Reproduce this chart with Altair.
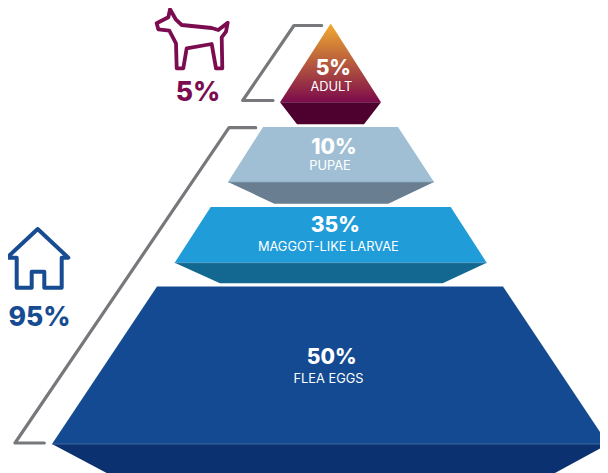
import altair as alt
import pandas as pd

FONT = "Inter"

# ---- pyramid outlines: (y, left, right)
adult_top_y = [23.5, 102.3]
adult_top_l = [330.7, 280]
adult_top_r = [330.7, 381]
adult_base_y = [102.3, 124.3]
adult_base_l = [280, 297]
adult_base_r = [381, 364]

pupae_top_y = [127, 182]
pupae_top_l = [263, 228]
pupae_top_r = [398, 434]
pupae_base_y = [182, 203.7]
pupae_base_l = [228, 274.3]
pupae_base_r = [434, 388.3]

larvae_top_y = [207, 262.7]
larvae_top_l = [210.7, 174.7]
larvae_top_r = [450.7, 486.7]
larvae_base_y = [262.7, 283.3]
larvae_base_l = [174.7, 220]
larvae_base_r = [486.7, 442.7]

eggs_top_y = [286.5, 444]
eggs_top_l = [157, 52]
eggs_top_r = [503, 608]
eggs_base_y = [444, 473]
eggs_base_l = [52, 106.7]
eggs_base_r = [608, 555]

faces = [
    ("adult_base", adult_base_y, adult_base_l, adult_base_r, "#4E002E"),
    ("pupae_top", pupae_top_y, pupae_top_l, pupae_top_r, "#A0BFD5"),
    ("pupae_base", pupae_base_y, pupae_base_l, pupae_base_r, "#697E90"),
    ("larvae_top", larvae_top_y, larvae_top_l, larvae_top_r, "#209CD9"),
    ("larvae_base", larvae_base_y, larvae_base_l, larvae_base_r, "#136892"),
    ("eggs_top", eggs_top_y, eggs_top_l, eggs_top_r, "#144A91"),
    ("eggs_base", eggs_base_y, eggs_base_l, eggs_base_r, "#0B3170"),
]

# ---- callout brackets and icons
bracket_adult_x = [321.7, 294, 242.7, 273]
bracket_adult_y = [25.5, 25.5, 100.5, 100.5]
bracket_home_x = [255.7, 229, 15, 44.3]
bracket_home_y = [127.7, 127.7, 443, 443]

dog_x = [156.7, 168.3, 170, 175.7, 181.7, 211.7, 218.3, 227.7, 226, 221.7, 222.3, 216, 211.7, 186.7, 183.3, 176.7, 176, 169.3, 158.3, 156.7]
dog_y = [23.3, 17.3, 9.3, 19.3, 25, 28, 30, 22.7, 31.7, 37.3, 68.3, 68.3, 44, 48.3, 68.3, 68.3, 43.3, 30.7, 29.3, 23.3]
house_x = [37.7, 68.3, 61.7, 61.7, 44.3, 44.3, 31.7, 31.7, 16.7, 16.7, 7, 37.7]
house_y = [229, 257.7, 257.7, 287.7, 287.7, 271.7, 271.7, 287.7, 287.7, 257.7, 257.7, 229]

# ---- labels
big_text = ["5%", "10%", "35%", "50%"]
big_x = [333.3, 334, 335.3, 331.7]
big_y = [69, 148, 225.5, 357.5]
small_text = ["ADULT", "PUPAE", "MAGGOT-LIKE LARVAE", "FLEA EGGS"]
small_x = [331.4, 330, 328.3, 328.5]
small_y = [87, 165.5, 246.5, 378.5]

side_text = ["5%", "95%"]
side_x = [198, 39.5]
side_y = [92.5, 318]
side_c = ["#7B0C50", "#174C93"]

# ---- scales: picture coordinates, plot area starts after the 8px page margin
x_scale = alt.Scale(domain=[8, 600], nice=False, zero=False)
y_scale = alt.Scale(domain=[473, 8], nice=False, zero=False)
X = lambda f: alt.X(f, type="quantitative", scale=x_scale, axis=None)
Y = lambda f: alt.Y(f, type="quantitative", scale=y_scale, axis=None)


def face_layer(name, ys, ls, rs, color):
    df = pd.DataFrame({"y": ys, "l": ls, "r": rs, "face": name})
    return alt.Chart(df).mark_area(orient="horizontal", clip=True, color=color).encode(
        y=Y("y:Q"), x=X("l:Q"), x2="r:Q"
    )


adult_top = alt.Chart(
    pd.DataFrame({"y": adult_top_y, "l": adult_top_l, "r": adult_top_r})
).mark_area(
    orient="horizontal",
    color=alt.Gradient(
        gradient="linear",
        x1=0, x2=0, y1=0, y2=1,
        stops=[
            alt.GradientStop(color="#F2AC2F", offset=0),
            alt.GradientStop(color="#7C0A4C", offset=1),
        ],
    ),
).encode(y=Y("y:Q"), x=X("l:Q"), x2="r:Q")


def outline(xs, ys, color, width, join="round"):
    df = pd.DataFrame({"x": xs, "y": ys, "i": range(len(xs))})
    return alt.Chart(df).mark_line(
        color=color, strokeWidth=width, strokeJoin=join, strokeCap="round", clip=False
    ).encode(x=X("x:Q"), y=Y("y:Q"), order="i:Q")


# thin lighter edges at the fold of each block
edge_y = [182, 262.7, 444]
edge_l = [228, 174.7, 52]
edge_r = [434, 486.7, 600]
edge_c = ["#8AA6BB", "#4C9EC8", "#4F74A5"]
edges = alt.Chart(pd.DataFrame({"y": edge_y, "l": edge_l, "r": edge_r, "c": edge_c})).mark_rule(
    strokeWidth=0.8
).encode(y=Y("y:Q"), x=X("l:Q"), x2="r:Q", color=alt.Color("c:N", scale=None))

big = alt.Chart(pd.DataFrame({"t": big_text, "x": big_x, "y": big_y})).mark_text(
    font=FONT, fontWeight=800, color="white", baseline="middle", align="center", fontSize=21
).encode(x=X("x:Q"), y=Y("y:Q"), text="t:N")
small = alt.Chart(pd.DataFrame({"t": small_text, "x": small_x, "y": small_y})).mark_text(
    font=FONT, fontWeight="normal", color="white", baseline="middle", align="center", fontSize=12.8
).encode(x=X("x:Q"), y=Y("y:Q"), text="t:N")

side = alt.Chart(pd.DataFrame({"t": side_text, "x": side_x, "y": side_y, "c": side_c})).mark_text(
    font=FONT, fontWeight=800, baseline="middle", align="center", fontSize=26.5
).encode(x=X("x:Q"), y=Y("y:Q"), text="t:N", color=alt.Color("c:N", scale=None))

layers = [adult_top] + [face_layer(*f) for f in faces] + [
    edges,
    outline(bracket_adult_x, bracket_adult_y, "#77787B", 3.2),
    outline(bracket_home_x, bracket_home_y, "#77787B", 3.2),
    outline(dog_x, dog_y, "#7B0C50", 3.8),
    outline(house_x, house_y, "#174C93", 4),
    big,
    small,
    side,
]

chart = alt.layer(*layers).properties(
    width=592, height=465, padding=0, autosize=alt.AutoSizeParams(type="none")
).configure_view(stroke=None)

chart.save("out.html", embed_options={"renderer": "svg", "actions": False})
